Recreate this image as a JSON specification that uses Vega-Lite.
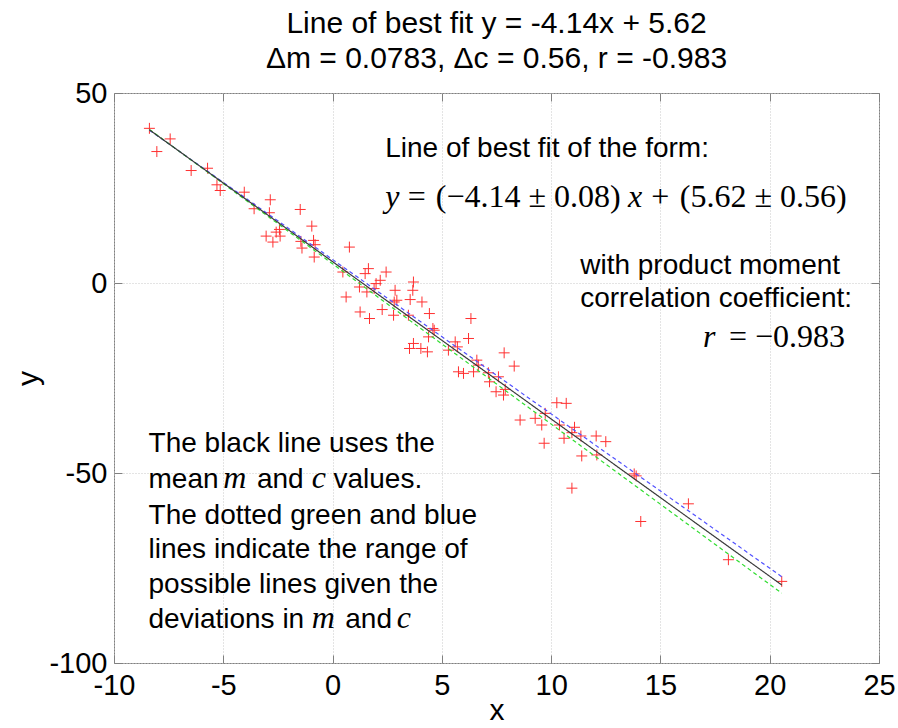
{
  "$schema": "https://vega.github.io/schema/vega-lite/v6.json",
  "width": 765,
  "height": 570,
  "autosize": {"type": "none"},
  "padding": {"left": 114, "top": 93, "right": 19, "bottom": 65},
  "background": "white",
  "config": {"view": {"stroke": "#808080", "strokeWidth": 1}, "font": "Liberation Sans"},
  "title": {
    "text": ["Line of best fit y = -4.14x + 5.62", "Δm = 0.0783, Δc = 0.56, r = -0.983"],
    "font": "Liberation Sans",
    "fontSize": 30,
    "fontWeight": "normal",
    "color": "black",
    "anchor": "middle",
    "frame": "group",
    "baseline": "bottom",
    "lineHeight": 35,
    "offset": -25
  },
  "resolve": {"axis": {"x": "independent", "y": "independent"}},
  "datasets": {
    "points": [
      {"x": -8.38, "y": 40.70}, {"x": -7.43, "y": 37.92}, {"x": -8.04, "y": 34.59}, {"x": -6.47, "y": 29.60},
      {"x": -5.72, "y": 30.20}, {"x": -5.29, "y": 25.84}, {"x": -5.14, "y": 24.34}, {"x": -4.04, "y": 23.90},
      {"x": -2.85, "y": 21.90}, {"x": -3.59, "y": 19.54}, {"x": -2.89, "y": 18.49}, {"x": -1.48, "y": 19.35},
      {"x": -2.43, "y": 14.10}, {"x": -2.58, "y": 13.39}, {"x": -3.04, "y": 12.34}, {"x": -2.40, "y": 12.34},
      {"x": -2.73, "y": 10.77}, {"x": -0.95, "y": 14.97}, {"x": -1.45, "y": 10.95}, {"x": -0.87, "y": 11.21},
      {"x": -1.40, "y": 9.19}, {"x": -0.84, "y": 6.83}, {"x": -0.80, "y": 10.08}, {"x": 0.77, "y": 9.45},
      {"x": 0.47, "y": 2.89}, {"x": 1.64, "y": 3.78}, {"x": 1.49, "y": 2.47}, {"x": 2.45, "y": 2.89},
      {"x": 2.18, "y": 0.71}, {"x": 1.99, "y": -0.16}, {"x": 1.90, "y": -1.47}, {"x": 1.23, "y": -1.05},
      {"x": 1.57, "y": -2.36}, {"x": 0.62, "y": -3.68}, {"x": 1.26, "y": -7.62}, {"x": 1.69, "y": -9.35},
      {"x": 2.27, "y": -6.99}, {"x": 2.86, "y": -1.92}, {"x": 2.94, "y": -4.54}, {"x": 2.82, "y": -4.99},
      {"x": 2.79, "y": -8.48}, {"x": 3.70, "y": 0.26}, {"x": 3.67, "y": -1.92}, {"x": 3.55, "y": -4.36},
      {"x": 4.09, "y": -4.99}, {"x": 3.47, "y": -8.48}, {"x": 4.43, "y": -8.04}, {"x": 4.59, "y": -11.97},
      {"x": 4.65, "y": -12.42}, {"x": 4.39, "y": -14.18}, {"x": 3.70, "y": -15.91}, {"x": 3.52, "y": -17.23},
      {"x": 4.04, "y": -17.23}, {"x": 4.34, "y": -18.12}, {"x": 5.30, "y": -17.67}, {"x": 5.61, "y": -15.49},
      {"x": 5.71, "y": -16.81}, {"x": 6.33, "y": -9.35}, {"x": 6.22, "y": -14.60}, {"x": 6.60, "y": -20.30},
      {"x": 6.67, "y": -21.61}, {"x": 7.85, "y": -18.38}, {"x": 8.31, "y": -21.87}, {"x": 5.76, "y": -23.37},
      {"x": 5.99, "y": -23.79}, {"x": 6.45, "y": -23.37}, {"x": 7.13, "y": -23.63}, {"x": 7.59, "y": -24.68},
      {"x": 7.18, "y": -26.00}, {"x": 7.48, "y": -28.62}, {"x": 7.90, "y": -27.99}, {"x": 7.82, "y": -29.49},
      {"x": 8.58, "y": -36.06}, {"x": 9.27, "y": -35.61}, {"x": 9.57, "y": -37.37}, {"x": 9.73, "y": -34.30},
      {"x": 10.26, "y": -31.51}, {"x": 10.69, "y": -31.67}, {"x": 9.68, "y": -42.17}, {"x": 10.38, "y": -37.37},
      {"x": 11.07, "y": -37.97}, {"x": 10.59, "y": -40.86}, {"x": 10.95, "y": -39.39}, {"x": 11.36, "y": -40.26},
      {"x": 12.06, "y": -40.26}, {"x": 12.50, "y": -41.75}, {"x": 11.40, "y": -45.51}, {"x": 12.09, "y": -45.25},
      {"x": 10.95, "y": -53.99}, {"x": 13.80, "y": -50.24}, {"x": 13.89, "y": -50.76}, {"x": 16.28, "y": -58.11},
      {"x": 14.10, "y": -62.76}, {"x": 18.11, "y": -72.82}, {"x": 20.55, "y": -78.52}
    ],
    "lines": [
      {"series": "upper", "x": -8.38, "y": 40.22}, {"series": "upper", "x": 20.55, "y": -77.29},
      {"series": "lower", "x": -8.38, "y": 40.41}, {"series": "lower", "x": 20.55, "y": -81.63},
      {"series": "mean", "x": -8.38, "y": 40.31}, {"series": "mean", "x": 20.55, "y": -79.46}
    ],
    "sansLeft": [
      {"x": 2.41, "y": 33.27, "label": "Line of best fit of the form:"},
      {"x": 11.33, "y": 2.28, "label": "with product moment"},
      {"x": 11.33, "y": -6.30, "label": "correlation coefficient:"},
      {"x": -8.42, "y": -44.38, "label": "The black line uses the"},
      {"x": -8.42, "y": -53.99, "label": "mean"},
      {"x": -3.46, "y": -53.99, "label": "and"},
      {"x": 0.04, "y": -53.99, "label": "values."},
      {"x": -8.42, "y": -63.37, "label": "The dotted green and blue"},
      {"x": -8.42, "y": -72.37, "label": "lines indicate the range of"},
      {"x": -8.42, "y": -81.57, "label": "possible lines given the"},
      {"x": -8.42, "y": -90.76, "label": "deviations in"},
      {"x": 0.58, "y": -90.76, "label": "and"}
    ],
    "serifItalic": [
      {"x": 2.41, "y": 19.88, "label": "y"},
      {"x": 13.52, "y": 19.88, "label": "x"},
      {"x": 16.95, "y": -16.81, "label": "r"},
      {"x": -5.00, "y": -53.99, "label": "m"},
      {"x": -0.95, "y": -53.99, "label": "c"},
      {"x": -0.95, "y": -90.76, "label": "m"},
      {"x": 2.94, "y": -90.76, "label": "c"}
    ],
    "serifCenter": [
      {"x": 3.85, "y": 19.88, "label": "="},
      {"x": 8.95, "y": 19.88, "label": "(−4.14 ± 0.08)"},
      {"x": 14.99, "y": 19.88, "label": "+"},
      {"x": 19.70, "y": 19.88, "label": "(5.62 ± 0.56)"}
    ],
    "serifRight": [
      {"x": 23.45, "y": -16.81, "label": "= −0.983"}
    ]
  },
  "layer": [
    {
      "data": {"name": "points"},
      "mark": {"type": "point", "shape": "M-1,0H1M0,-1V1", "filled": false, "stroke": "#ff3030", "strokeWidth": 1, "size": 120, "opacity": 1},
      "encoding": {
        "x": {
          "field": "x", "type": "quantitative",
          "scale": {"domain": [-10, 25], "nice": false, "zero": false},
          "axis": {
            "orient": "bottom", "title": "x", "values": [-10, -5, 0, 5, 10, 15, 20, 25],
            "labelExpr": "'' + datum.value",
            "domain": false, "tickSize": -8, "tickColor": "#808080", "tickWidth": 1,
            "grid": true, "gridColor": "#c8c8c8", "gridDash": [1, 2], "gridWidth": 1,
            "labelFont": "Liberation Sans", "labelFontSize": 29, "labelColor": "black", "labelPadding": 16,
            "labelFlush": false, "labelOverlap": false,
            "titleFont": "Liberation Sans", "titleFontSize": 30, "titleFontWeight": "normal", "titleColor": "black", "titlePadding": -5
          }
        },
        "y": {
          "field": "y", "type": "quantitative",
          "scale": {"domain": [-100, 50], "nice": false, "zero": false},
          "axis": {
            "orient": "left", "title": "y", "values": [-100, -50, 0, 50],
            "labelExpr": "'' + datum.value",
            "domain": false, "tickSize": -8, "tickColor": "#808080", "tickWidth": 1,
            "grid": true, "gridColor": "#c8c8c8", "gridDash": [1, 2], "gridWidth": 1,
            "labelFont": "Liberation Sans", "labelFontSize": 29, "labelColor": "black", "labelPadding": 15,
            "labelFlush": false, "labelOverlap": false,
            "titleFont": "Liberation Sans", "titleFontSize": 30, "titleFontWeight": "normal", "titleColor": "black", "titlePadding": 5
          }
        }
      }
    },
    {
      "data": {"name": "lines"},
      "mark": {"type": "line", "strokeWidth": 1.2},
      "encoding": {
        "x": {
          "field": "x", "type": "quantitative",
          "scale": {"domain": [-10, 25], "nice": false, "zero": false},
          "axis": {"orient": "top", "title": null, "labels": false, "grid": false, "domain": false,
                   "values": [-10, -5, 0, 5, 10, 15, 20, 25], "tickSize": -8, "tickColor": "#808080"}
        },
        "y": {
          "field": "y", "type": "quantitative",
          "scale": {"domain": [-100, 50], "nice": false, "zero": false},
          "axis": {"orient": "right", "title": null, "labels": false, "grid": false, "domain": false,
                   "values": [-100, -50, 0, 50], "tickSize": -8, "tickColor": "#808080"}
        },
        "detail": {"field": "series"},
        "color": {"field": "series", "type": "nominal", "legend": null,
                  "scale": {"domain": ["mean", "upper", "lower"], "range": ["#3a3a3a", "#5050ff", "#30dd30"]}},
        "strokeDash": {"field": "series", "type": "nominal", "legend": null,
                       "scale": {"domain": ["mean", "upper", "lower"], "range": [[1, 0], [4, 3], [4, 3]]}}
      }
    },
    {
      "data": {"name": "sansLeft"},
      "mark": {"type": "text", "align": "left", "baseline": "alphabetic", "font": "Liberation Sans", "fontSize": 28, "color": "black"},
      "encoding": {
        "x": {"field": "x", "type": "quantitative", "axis": null},
        "y": {"field": "y", "type": "quantitative", "axis": null},
        "text": {"field": "label"}
      }
    },
    {
      "data": {"name": "serifItalic"},
      "mark": {"type": "text", "align": "left", "baseline": "alphabetic", "font": "Liberation Serif", "fontStyle": "italic", "fontSize": 32, "color": "black"},
      "encoding": {
        "x": {"field": "x", "type": "quantitative", "axis": null},
        "y": {"field": "y", "type": "quantitative", "axis": null},
        "text": {"field": "label"}
      }
    },
    {
      "data": {"name": "serifCenter"},
      "mark": {"type": "text", "align": "center", "baseline": "alphabetic", "font": "Liberation Serif", "fontSize": 32, "color": "black"},
      "encoding": {
        "x": {"field": "x", "type": "quantitative", "axis": null},
        "y": {"field": "y", "type": "quantitative", "axis": null},
        "text": {"field": "label"}
      }
    },
    {
      "data": {"name": "serifRight"},
      "mark": {"type": "text", "align": "right", "baseline": "alphabetic", "font": "Liberation Serif", "fontSize": 32, "color": "black"},
      "encoding": {
        "x": {"field": "x", "type": "quantitative", "axis": null},
        "y": {"field": "y", "type": "quantitative", "axis": null},
        "text": {"field": "label"}
      }
    }
  ]
}
